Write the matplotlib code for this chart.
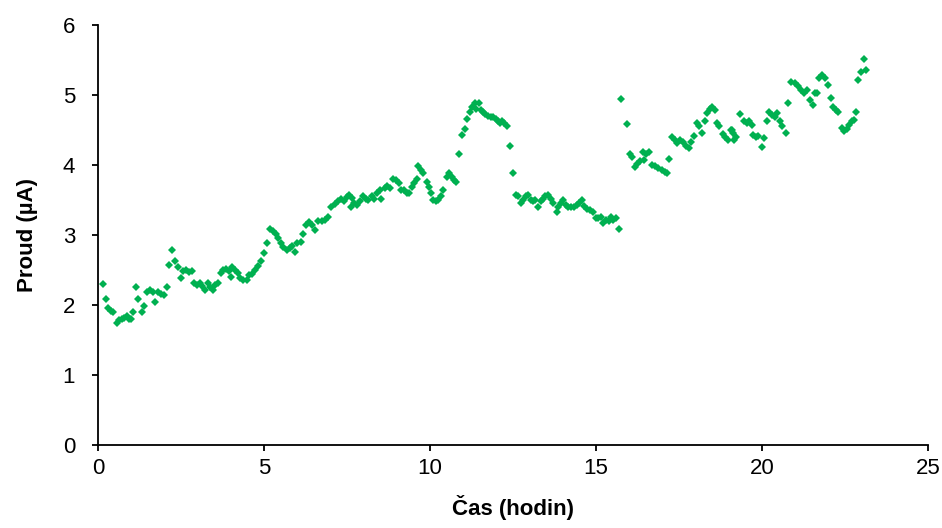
import matplotlib.pyplot as plt

# Current measured over time (hours, microamps)
cas = [0.15, 0.23, 0.31, 0.39, 0.46, 0.56, 0.63, 0.71, 0.79, 0.86, 0.93, 1.00, 1.06, 1.14,
       1.22, 1.32, 1.40, 1.48, 1.57, 1.65, 1.73, 1.82, 1.90, 1.98, 2.07, 2.15, 2.24, 2.32,
       2.40, 2.49, 2.57, 2.65, 2.73, 2.82, 2.90, 2.98, 3.06, 3.14, 3.22, 3.30, 3.38, 3.46,
       3.54, 3.62, 3.70, 3.78, 3.87, 3.95, 4.00, 4.04, 4.13, 4.21, 4.29, 4.38, 4.48, 4.55,
       4.63, 4.73, 4.81, 4.91, 4.99, 5.08, 5.18, 5.28, 5.35, 5.43, 5.51, 5.58, 5.68, 5.78,
       5.85, 5.93, 6.01, 6.11, 6.19, 6.27, 6.35, 6.45, 6.54, 6.64, 6.74, 6.84, 6.94, 7.03,
       7.14, 7.23, 7.32, 7.40, 7.49, 7.57, 7.62, 7.66, 7.71, 7.79, 7.89, 7.99, 8.07, 8.14,
       8.24, 8.31, 8.41, 8.49, 8.54, 8.64, 8.71, 8.80, 8.89, 8.99, 9.07, 9.14, 9.22, 9.30,
       9.38, 9.45, 9.52, 9.60, 9.65, 9.72, 9.80, 9.90, 9.98, 10.02, 10.10, 10.18, 10.25,
       10.32, 10.40, 10.50, 10.58, 10.65, 10.72, 10.80, 10.88, 10.98, 11.06, 11.12, 11.20,
       11.28, 11.36, 11.40, 11.47, 11.54, 11.60, 11.66, 11.74, 11.84, 11.91, 11.98, 12.04,
       12.11, 12.16, 12.24, 12.31, 12.41, 12.51, 12.58, 12.66, 12.74, 12.81, 12.88, 12.96,
       13.04, 13.11, 13.18, 13.26, 13.34, 13.41, 13.48, 13.56, 13.64, 13.71, 13.82, 13.86,
       13.94, 14.02, 14.09, 14.17, 14.25, 14.33, 14.42, 14.49, 14.57, 14.65, 14.72, 14.82,
       14.92, 14.99, 15.07, 15.15, 15.22, 15.30, 15.38, 15.45, 15.52, 15.60, 15.69, 15.77,
       15.94, 16.02, 16.10, 16.17, 16.24, 16.33, 16.42, 16.45, 16.51, 16.59, 16.68, 16.78,
       16.88, 16.98, 17.08, 17.13, 17.21, 17.28, 17.38, 17.45, 17.53, 17.61, 17.71, 17.79,
       17.87, 17.95, 18.05, 18.11, 18.21, 18.28, 18.35, 18.43, 18.51, 18.58, 18.64, 18.72,
       18.82, 18.90, 18.98, 19.06, 19.09, 19.12, 19.16, 19.22, 19.34, 19.46, 19.54, 19.62,
       19.69, 19.74, 19.82, 19.89, 19.99, 20.06, 20.14, 20.22, 20.30, 20.39, 20.46, 20.54,
       20.62, 20.72, 20.80, 20.89, 20.99, 21.09, 21.19, 21.27, 21.35, 21.45, 21.53, 21.60,
       21.67, 21.73, 21.81, 21.90, 22.00, 22.07, 22.15, 22.23, 22.30, 22.40, 22.47, 22.55,
       22.63, 22.70, 22.77, 22.83, 22.90, 22.98, 23.07, 23.15]
proud = [2.30, 2.08, 1.96, 1.91, 1.90, 1.74, 1.78, 1.80, 1.82, 1.85, 1.80, 1.80, 1.90, 2.26,
         2.08, 1.90, 1.99, 2.19, 2.21, 2.19, 2.05, 2.18, 2.16, 2.14, 2.26, 2.57, 2.78, 2.63,
         2.54, 2.38, 2.48, 2.50, 2.47, 2.49, 2.31, 2.29, 2.32, 2.27, 2.22, 2.31, 2.25, 2.22,
         2.29, 2.32, 2.45, 2.50, 2.51, 2.48, 2.40, 2.54, 2.50, 2.45, 2.38, 2.35, 2.36, 2.43,
         2.44, 2.50, 2.55, 2.63, 2.74, 2.88, 3.08, 3.06, 3.01, 2.95, 2.89, 2.83, 2.78, 2.81,
         2.84, 2.75, 2.88, 2.90, 3.02, 3.14, 3.18, 3.14, 3.07, 3.20, 3.20, 3.22, 3.26, 3.40,
         3.44, 3.48, 3.51, 3.48, 3.54, 3.57, 3.40, 3.53, 3.45, 3.43, 3.48, 3.55, 3.52, 3.50,
         3.55, 3.51, 3.60, 3.64, 3.52, 3.67, 3.70, 3.67, 3.80, 3.78, 3.74, 3.64, 3.64, 3.60,
         3.60, 3.69, 3.74, 3.80, 3.98, 3.93, 3.88, 3.76, 3.69, 3.60, 3.50, 3.48, 3.50,
         3.55, 3.64, 3.83, 3.89, 3.83, 3.79, 3.76, 4.16, 4.43, 4.51, 4.65, 4.76,
         4.83, 4.89, 4.80, 4.89, 4.79, 4.76, 4.73, 4.70, 4.68, 4.69, 4.65, 4.63,
         4.60, 4.63, 4.60, 4.56, 4.27, 3.88, 3.57, 3.55, 3.45, 3.50, 3.56, 3.57,
         3.50, 3.49, 3.50, 3.40, 3.48, 3.51, 3.55, 3.57, 3.52, 3.45, 3.33, 3.40,
         3.45, 3.50, 3.43, 3.40, 3.40, 3.40, 3.43, 3.46, 3.50, 3.41, 3.37, 3.36,
         3.33, 3.24, 3.24, 3.26, 3.17, 3.22, 3.20, 3.25, 3.22, 3.24, 3.09, 4.94,
         4.58, 4.16, 4.11, 3.97, 4.02, 4.06, 4.19, 4.07, 4.16, 4.19, 4.00, 3.98,
         3.95, 3.93, 3.90, 3.89, 4.09, 4.40, 4.36, 4.31, 4.36, 4.32, 4.27, 4.24,
         4.33, 4.41, 4.60, 4.55, 4.46, 4.63, 4.74, 4.80, 4.83, 4.79, 4.60, 4.55,
         4.44, 4.40, 4.35, 4.50, 4.50, 4.45, 4.36, 4.40, 4.73, 4.62, 4.60, 4.62,
         4.57, 4.43, 4.40, 4.41, 4.25, 4.38, 4.62, 4.76, 4.71, 4.69, 4.74, 4.62,
         4.56, 4.45, 4.88, 5.19, 5.17, 5.12, 5.07, 5.02, 5.07, 4.93, 4.86, 5.02,
         5.02, 5.24, 5.29, 5.24, 5.14, 4.95, 4.83, 4.79, 4.76, 4.52, 4.48, 4.51,
         4.57, 4.62, 4.64, 4.76, 5.21, 5.33, 5.51, 5.35]

plt.rcParams['font.family'] = ['Liberation Sans', 'DejaVu Sans']

fig = plt.figure(figsize=(9.42, 5.28), dpi=100)
ax = fig.add_axes([0.104, 0.157, 0.881, 0.796])

ax.plot(cas, proud, linestyle='none', marker='D', markersize=3.9,
        color='#00B050', markeredgewidth=0)

ax.set_xlim(0, 25)
ax.set_ylim(0, 6)
ax.set_xticks([0, 5, 10, 15, 20, 25])
ax.set_yticks([0, 1, 2, 3, 4, 5, 6])
ax.spines['top'].set_visible(False)
ax.spines['right'].set_visible(False)
ax.spines['left'].set_linewidth(1.3)
ax.spines['bottom'].set_linewidth(1.3)
ax.tick_params(direction='out', length=4.5, width=1.3, labelsize=16)
ax.tick_params(axis='x', pad=5)
ax.tick_params(axis='y', pad=12)

ax.set_xlabel('Čas (hodin)', fontsize=16, fontweight='bold', labelpad=11)
ax.set_ylabel('Proud (µA)', fontsize=16, fontweight='bold', labelpad=18)

fig.savefig('out.png', dpi=100)
